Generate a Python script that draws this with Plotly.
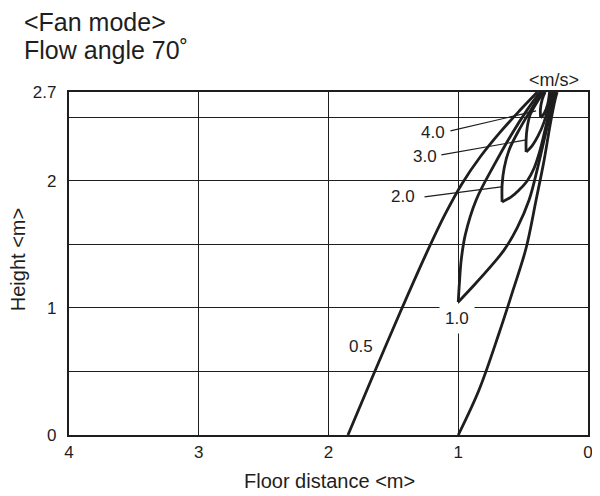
import plotly.graph_objects as go

# ---- axis ticks / grid ----
X_TICKS = [0, 1, 2, 3, 4]
Y_TICKS = [0, 1, 2, 2.7]
Y_TICK_TEXT = ["0", "1", "2", "2.7"]
Y_MINOR_GRID = [0.5, 1.5, 2.5]

# ---- velocity isolines (x = floor distance m, y = height m) ----
V05_LEFT_X = [1.85, 1.66, 1.45, 1.25, 1.10, 0.97, 0.83, 0.68, 0.53, 0.39]
V05_LEFT_Y = [0.0, 0.46, 0.96, 1.42, 1.74, 1.98, 2.19, 2.38, 2.55, 2.70]
V05_RIGHT_X = [1.0, 0.84, 0.685, 0.577, 0.477, 0.40, 0.338, 0.292, 0.254, 0.238]
V05_RIGHT_Y = [0.0, 0.354, 0.803, 1.142, 1.472, 1.85, 2.165, 2.441, 2.638, 2.70]

V10_LEFT_X = [0.369, 0.469, 0.592, 0.723, 0.862, 0.946, 0.977, 0.992, 1.0]
V10_LEFT_Y = [2.70, 2.559, 2.362, 2.126, 1.85, 1.575, 1.378, 1.181, 1.047]
V10_RIGHT_X = [1.0, 0.877, 0.746, 0.646, 0.546, 0.454, 0.392, 0.338, 0.292, 0.254]
V10_RIGHT_Y = [1.047, 1.181, 1.331, 1.457, 1.630, 1.850, 2.087, 2.323, 2.520, 2.70]

V20_LEFT_X = [0.354, 0.431, 0.531, 0.608, 0.646, 0.662, 0.662]
V20_LEFT_Y = [2.70, 2.575, 2.402, 2.244, 2.102, 1.969, 1.835]
V20_RIGHT_X = [0.662, 0.592, 0.531, 0.469, 0.415, 0.369, 0.331, 0.292, 0.269]
V20_RIGHT_Y = [1.835, 1.874, 1.929, 2.0, 2.102, 2.244, 2.402, 2.575, 2.70]

V30_LEFT_X = [0.338, 0.392, 0.446, 0.469, 0.477, 0.477]
V30_LEFT_Y = [2.70, 2.622, 2.520, 2.417, 2.323, 2.228]
V30_RIGHT_X = [0.477, 0.431, 0.385, 0.338, 0.308, 0.285]
V30_RIGHT_Y = [2.228, 2.276, 2.354, 2.465, 2.575, 2.70]

V40_LEFT_X = [0.330, 0.354, 0.367, 0.365]
V40_LEFT_Y = [2.70, 2.638, 2.559, 2.496]
V40_RIGHT_X = [0.365, 0.336, 0.312, 0.296]
V40_RIGHT_Y = [2.496, 2.535, 2.598, 2.70]

# ---- labels ----
LABELS = ["4.0", "3.0", "2.0", "1.0", "0.5"]
LABEL_X = [1.192, 1.254, 1.423, 1.008, 1.746]
LABEL_Y = [2.378, 2.189, 1.874, 0.921, 0.693]
LEADER_X0 = [1.06, 1.13, 1.26]
LEADER_Y0 = [2.394, 2.205, 1.874]
LEADER_X1 = [0.40, 0.477, 0.669]
LEADER_Y1 = [2.551, 2.323, 1.953]

INK = "#1e1e1e"
FONT = "Liberation Sans, Arial, Helvetica, sans-serif"

fig = go.Figure()

contours = [
    (V05_LEFT_X, V05_LEFT_Y, V05_RIGHT_X, V05_RIGHT_Y),
    (V10_LEFT_X, V10_LEFT_Y, V10_RIGHT_X, V10_RIGHT_Y),
    (V20_LEFT_X, V20_LEFT_Y, V20_RIGHT_X, V20_RIGHT_Y),
    (V30_LEFT_X, V30_LEFT_Y, V30_RIGHT_X, V30_RIGHT_Y),
    (V40_LEFT_X, V40_LEFT_Y, V40_RIGHT_X, V40_RIGHT_Y),
]
for lx, ly, rx, ry in contours:
    fig.add_trace(go.Scatter(
        x=list(lx) + [None] + list(rx),
        y=list(ly) + [None] + list(ry),
        mode="lines", connectgaps=False,
        line=dict(color=INK, width=2.8, shape="spline", smoothing=1.0),
        hoverinfo="skip", showlegend=False,
    ))

for x0, y0, x1, y1 in zip(LEADER_X0, LEADER_Y0, LEADER_X1, LEADER_Y1):
    fig.add_trace(go.Scatter(
        x=[x0, x1], y=[y0, y1], mode="lines",
        line=dict(color=INK, width=1.2),
        hoverinfo="skip", showlegend=False,
    ))

for t, x, y in zip(LABELS, LABEL_X, LABEL_Y):
    fig.add_annotation(
        x=x, y=y, xref="x", yref="y", text=t, showarrow=False,
        font=dict(family=FONT, size=17, color=INK),
        bgcolor="white" if t == "1.0" else "rgba(0,0,0,0)",
        borderpad=5 if t == "1.0" else 1,
    )

fig.add_annotation(x=-0.0904, y=1.204, xref="paper", yref="paper",
                   text="&lt;Fan mode&gt;", showarrow=False,
                   xanchor="left", yanchor="middle",
                   font=dict(family=FONT, size=25, color=INK))
fig.add_annotation(x=-0.0904, y=1.122, xref="paper", yref="paper",
                   text="Flow angle 70˚", showarrow=False,
                   xanchor="left", yanchor="middle",
                   font=dict(family=FONT, size=25, color=INK))
fig.add_annotation(x=0.935, y=1.035, xref="paper", yref="paper",
                   text="&lt;m/s&gt;", showarrow=False,
                   xanchor="center", yanchor="middle",
                   font=dict(family=FONT, size=18, color=INK))
fig.add_annotation(x=0.502, y=-0.134, xref="paper", yref="paper",
                   text="Floor distance &lt;m&gt;", showarrow=False,
                   xanchor="center", yanchor="middle",
                   font=dict(family=FONT, size=20, color=INK))
fig.add_annotation(x=-0.098, y=0.51, xref="paper", yref="paper",
                   text="Height &lt;m&gt;", showarrow=False, textangle=-90,
                   xanchor="center", yanchor="middle",
                   font=dict(family=FONT, size=20, color=INK))

# the page body adds an 8px offset, so the figure is sized/margined to compensate
fig.update_layout(
    width=592, height=488,
    margin=dict(l=61, r=12, t=84, b=61),
    paper_bgcolor="white", plot_bgcolor="white",
    font=dict(family=FONT, color=INK),
    xaxis=dict(
        range=[4, 0], tickmode="array", tickvals=X_TICKS,
        ticktext=[str(v) for v in X_TICKS], automargin=False,
        showgrid=True, gridcolor=INK, gridwidth=1,
        zeroline=False, showline=True, linecolor=INK, linewidth=2.4, mirror=True,
        ticks="", ticklabelstandoff=0,
        tickfont=dict(family=FONT, size=17, color=INK),
    ),
    yaxis=dict(
        range=[0, 2.7], tickmode="array", tickvals=Y_TICKS, ticktext=Y_TICK_TEXT,
        automargin=False,
        showgrid=True, gridcolor=INK, gridwidth=1,
        minor=dict(tickmode="array", tickvals=Y_MINOR_GRID, showgrid=True,
                   gridcolor=INK, gridwidth=1, ticks=""),
        zeroline=False, showline=True, linecolor=INK, linewidth=2.4, mirror=True,
        ticks="", ticklabelstandoff=7,
        tickfont=dict(family=FONT, size=17, color=INK),
    ),
)

fig.write_html("out.html")
